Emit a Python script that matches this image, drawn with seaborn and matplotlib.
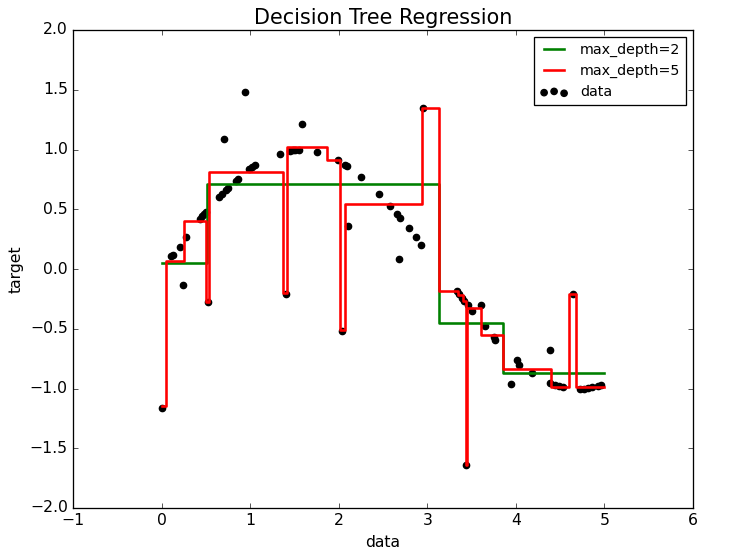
import matplotlib
matplotlib.use("Agg")
import matplotlib.pyplot as plt
import seaborn as sns
import numpy as np

data_x = [0.00, 0.11, 0.13, 0.21, 0.245, 0.28, 0.43, 0.46, 0.48, 0.50,
          0.52, 0.65, 0.68, 0.71, 0.73, 0.75, 0.84, 0.86, 0.94, 0.99,
          1.02, 1.05, 1.34, 1.40, 1.45, 1.48, 1.51, 1.55, 1.58, 1.75,
          1.99, 2.04, 2.07, 2.09, 2.11, 2.25, 2.45, 2.58, 2.66, 2.68,
          2.69, 2.79, 2.87, 2.93, 2.95, 3.33, 3.36, 3.39, 3.42, 3.44,
          3.46, 3.50, 3.61, 3.65, 3.75, 3.77, 3.94, 4.01, 4.04, 4.18,
          4.38, 4.39, 4.44, 4.49, 4.53, 4.64, 4.72, 4.77, 4.82, 4.86,
          4.93, 4.96]
data_y = [-1.16, 0.11, 0.12, 0.18, -0.13, 0.27, 0.42, 0.44, 0.46, 0.48,
          -0.28, 0.60, 0.63, 1.09, 0.66, 0.68, 0.74, 0.75, 1.48, 0.84,
          0.85, 0.87, 0.96, -0.21, 0.99, 0.995, 1.00, 1.00, 1.21, 0.98,
          0.91, -0.52, 0.87, 0.86, 0.36, 0.77, 0.63, 0.53, 0.46, 0.08,
          0.43, 0.34, 0.27, 0.20, 1.35, -0.18, -0.21, -0.24, -0.27, -1.64,
          -0.30, -0.35, -0.30, -0.48, -0.57, -0.59, -0.96, -0.76, -0.80, -0.87,
          -0.68, -0.95, -0.97, -0.98, -0.99, -0.21, -1.00, -1.00, -0.995, -0.99,
          -0.975, -0.97]

# tree predictions as step functions: split points and leaf values
d2_edges = [0.0, 0.51, 3.13, 3.85, 4.99]
d2_vals = [0.05, 0.71, -0.45, -0.87, -0.87]

d5_edges = [0.0, 0.05, 0.25, 0.50, 0.53, 1.37, 1.42, 1.87, 2.01, 2.07,
            2.94, 3.13, 3.35, 3.40, 3.44, 3.45, 3.61, 3.86, 4.40, 4.60,
            4.68, 4.99]
d5_vals = [-1.15, 0.07, 0.40, -0.28, 0.81, -0.20, 1.02, 0.91, -0.51, 0.54,
           1.35, -0.18, -0.22, -0.27, -1.64, -0.33, -0.55, -0.84, -0.99, -0.21,
           -0.99, -0.99]

plt.style.use("classic")
fig = plt.figure(figsize=(747 / 93.4, 558 / 93.4), dpi=93.4, facecolor="white")
ax = fig.add_subplot(111)
fig.subplots_adjust(left=73 / 747, right=693 / 747, top=1 - 30 / 558, bottom=1 - 508 / 558)

sns.scatterplot(x=data_x, y=data_y, color="k", edgecolor="k", s=24, linewidth=1,
                ax=ax, label="data", zorder=2)
sns.lineplot(x=d2_edges, y=d2_vals, color="g", linewidth=2, drawstyle="steps-post",
             estimator=None, sort=False, ax=ax, label="max_depth=2", zorder=3)
sns.lineplot(x=d5_edges, y=d5_vals, color="r", linewidth=2, drawstyle="steps-post",
             estimator=None, sort=False, ax=ax, label="max_depth=5", zorder=4)

ax.set_xlim(-1, 6)
ax.set_ylim(-2, 2)
ax.set_xlabel("data")
ax.set_ylabel("target")
ax.set_title("Decision Tree Regression", fontsize=16)

h, l = ax.get_legend_handles_labels()
order = [l.index("max_depth=2"), l.index("max_depth=5"), l.index("data")]
ax.legend([h[i] for i in order], [l[i] for i in order], loc="upper right", fontsize=11,
          scatterpoints=3, scatteryoffsets=[0.375, 0.5, 0.3125])

fig.savefig("out.png", dpi=93.4, facecolor="white")
